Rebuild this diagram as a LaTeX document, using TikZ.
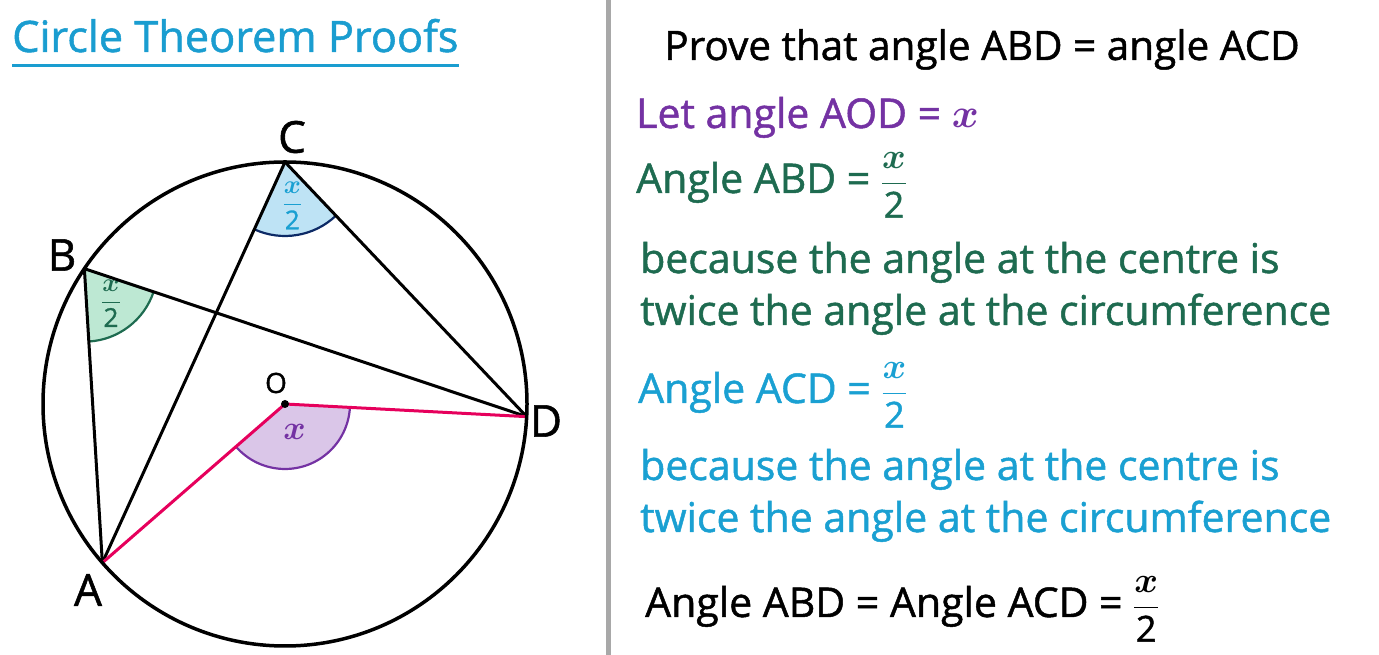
\RequirePackage{fix-cm}
\documentclass[tikz,border=0pt]{standalone}
\usepackage{amsmath}
\usepackage{fontspec}
\setmainfont{Open Sans}[FakeBold=1.2]
\usetikzlibrary{angles}
\definecolor{titleblue}{HTML}{1A9DD0}
\definecolor{proofpurple}{HTML}{7432A3}
\definecolor{proofgreen}{HTML}{1E6B50}
\definecolor{proofblue}{HTML}{1AA0D2}
\definecolor{radiuspink}{HTML}{E6005C}
\definecolor{dividergrey}{HTML}{A8A8A8}
\definecolor{sectorblue}{HTML}{BEE3F5}
\definecolor{sectornavy}{HTML}{0D2A66}
\definecolor{sectorgreen}{HTML}{BDE8D3}
\definecolor{sectorpurple}{HTML}{DAC6E8}
\tikzset{
  chord/.style={line width=3pt, line cap=round},
  radius line/.style={radiuspink, line width=3pt, line cap=round},
  ptlabel/.style={font=\fontsize{44}{50}\selectfont, inner sep=0pt},
  proofline/.style={anchor=base west, inner sep=0pt, font=\fontsize{41}{48}\selectfont},
  anglemark/.style={line width=2.2pt, pic text options={inner sep=0pt}}
}
\newcommand{\bx}{\boldsymbol{x}}
\newcommand{\halfx}{{\fontsize{36}{36}\selectfont$\dfrac{\bx}{\mbox{2}}$}}
\newcommand{\smallhalfx}{{\fontsize{26}{26}\selectfont$\dfrac{\bx}{\mbox{2}}$}}
\newcommand{\anglex}{{\fontsize{34}{34}\selectfont$\bx$}}
\begin{document}
\begin{tikzpicture}[x=1pt,y=1pt]
	\useasboundingbox (0,0) rectangle (1379,655);
	% title and divider
	\node[anchor=base west, inner sep=0pt, text=titleblue, font=\fontsize{43.3}{50}\selectfont] (title) at (12,603) {Circle Theorem Proofs};
	\draw[titleblue, line width=3pt] ([yshift=-14pt]title.base west) -- ([yshift=-14pt]title.base east);
	\draw[dividergrey, line width=5pt] (608,0) -- (608,655);
	% circle points
	\coordinate (O) at (285,251);
	\path (O) ++(221:242) coordinate (A);
	\path (O) ++(146:242) coordinate (B);
	\path (O) ++(90:242) coordinate (C);
	\path (O) ++(-3:242) coordinate (D);
	% angle sectors
	\pic[anglemark, draw=sectornavy, fill=sectorblue, angle radius=74pt, angle eccentricity=0.6,
		pic text=\smallhalfx, pic text options={text=proofblue}] {angle=A--C--D};
	\pic[anglemark, draw=proofgreen, fill=sectorgreen, angle radius=73pt, angle eccentricity=0.6,
		pic text=\smallhalfx, pic text options={text=proofgreen}] {angle=A--B--D};
	\pic[anglemark, draw=proofpurple, fill=sectorpurple, angle radius=65pt, angle eccentricity=0.45,
		pic text=\anglex, pic text options={text=proofpurple}] {angle=A--O--D};
	% chords and radii
	\draw[chord] (B) -- (A);
	\draw[chord] (B) -- (D);
	\draw[chord] (C) -- (A);
	\draw[chord] (C) -- (D);
	\draw[radius line] (A) -- (O) -- (D);
	\draw[line width=3.5pt] (O) circle (242);
	\fill (O) circle (4);
	% point labels
	\node[ptlabel] (lblC) at (292,518) {C};
	\node[ptlabel] (lblB) at (62,400) {B};
	\node[ptlabel, font=\fontsize{28}{32}\selectfont] (lblO) at (276,272) {O};
	\node[ptlabel] (lblD) at (546,234) {D};
	\node[ptlabel] (lblA) at (88,65) {A};
	% proof text
	\node[proofline, anchor=base, font=\fontsize{40.5}{48}\selectfont] (goal) at (982,595) {Prove that angle ABD = angle ACD};
	\node[proofline, text=proofpurple] (letx) at (636,527) {Let angle AOD = $\bx$};
	\node[proofline, text=proofgreen] (abd) at (636,462) {Angle ABD = \halfx};
	\node[proofline, text=proofgreen] (abdwhy) at (640,382) {because the angle at the centre is};
	\node[proofline, text=proofgreen] (abdwhy2) at (640,330) {twice the angle at the circumference};
	\node[proofline, text=proofblue] (acd) at (638,252) {Angle ACD = \halfx};
	\node[proofline, text=proofblue] (acdwhy) at (640,175) {because the angle at the centre is};
	\node[proofline, text=proofblue] (acdwhy2) at (640,123) {twice the angle at the circumference};
	\node[proofline] (result) at (645,38) {Angle ABD = Angle ACD = \halfx};
\end{tikzpicture}
\end{document}
